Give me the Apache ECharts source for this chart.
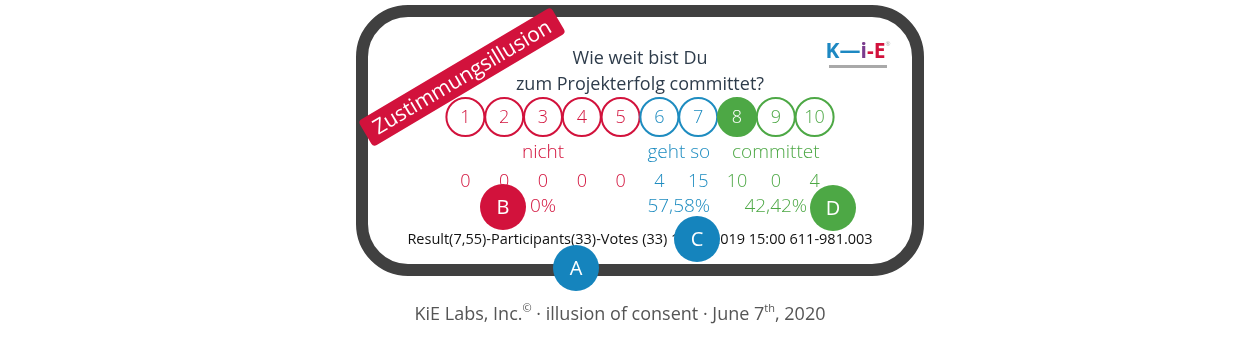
<!DOCTYPE html>
<html><head><meta charset="utf-8">
<script src="https://cdn.jsdelivr.net/npm/echarts@6/dist/echarts.min.js"></script>
<style>html,body{margin:0;padding:0;background:#fff}#c{width:1240px;height:340px}</style>
</head><body><div id="c"></div>
<script>
// ---- data ----
const scaleValues = [1,2,3,4,5,6,7,8,9,10];
const voteCounts  = [0,0,0,0,0,4,15,10,0,4];
const groupNames  = ['nicht','geht so','committet'];
const groupFrom   = [1,6,8];
const groupTo     = [5,7,10];
const groupColors = ['#D2123C','#1E8CC0','#4DA845'];
const rowNames    = ['scale','group','count','share'];
const question    = ['Wie weit bist Du','zum Projekterfolg committet?'];
const bannerText  = 'Zustimmungsillusion';
const caption     = 'KiE Labs, Inc.';
const captionRest = ' · illusion of consent · June 7';
const sessionInfo = '13.06.2019 15:00 611-981.003';

const FONT = '"Open Sans", "Noto Sans", sans-serif';
const total = voteCounts.reduce((a,b)=>a+b,0);
const mean = voteCounts.reduce((a,c,i)=>a+c*scaleValues[i],0)/total;
const selected = Math.round(mean);
const groupOf = v => groupFrom.findIndex((f,g)=>v>=f && v<=groupTo[g]);
const fmtDe = (x,d)=>x.toFixed(d).replace('.',',');
const groupShares = groupNames.map((n,g)=>{
  let s=0; scaleValues.forEach((v,i)=>{ if(groupOf(v)===g) s+=voteCounts[i]; });
  return s;
});
const pctText = s => s===0 ? '0%' : fmtDe(s/total*100,2)+'%';

const chart = echarts.init(document.getElementById('c'));

const ringData = scaleValues.map(v=>{
  const c = groupColors[groupOf(v)];
  const sel = v===selected;
  return {value:[v,'scale'], itemStyle:{color: sel?c:'#fff', borderColor:c, borderWidth:2, opacity:1},
          label:{color: sel?'#fff':c}};
});
const countData = scaleValues.map((v,i)=>({value:[v,'count',voteCounts[i]], label:{color:groupColors[groupOf(v)]}}));
const groupData = groupNames.map((n,g)=>({value:[(groupFrom[g]+groupTo[g])/2,'group',n], label:{color:groupColors[g]}}));
const shareData = groupNames.map((n,g)=>({value:[(groupFrom[g]+groupTo[g])/2,'share',pctText(groupShares[g])], label:{color:groupColors[g]}}));

function badge(x,y,letter,color){
  return {type:'group', x:x, y:y, z:100, children:[
    {type:'circle', shape:{cx:0,cy:0,r:23}, style:{fill:color}},
    {type:'text', style:{text:letter, x:0, y:1, fill:'#fff', font:'20px '+FONT, align:'center', verticalAlign:'middle'}}
  ]};
}
const lbl = (dy,fs)=>({show:true, position:'inside', fontSize:fs, fontFamily:FONT, fontWeight:300, offset:[0,dy]});

const option = {
  animation:false,
  grid:{left:446, width:388, top:102, height:120},
  xAxis:{type:'value', min:0.5, max:10.5, show:false},
  yAxis:{type:'category', data:rowNames, inverse:true, show:false},
  graphic:[
    {type:'rect', z:-10, shape:{x:362,y:11,width:556,height:259,r:46}, style:{fill:'#fff', stroke:'#404040', lineWidth:12}},
    {type:'text', style:{text:question[0], x:640, y:59, fill:'#2E3C4B', font:'18px '+FONT, align:'center', verticalAlign:'middle'}},
    {type:'text', style:{text:question[1], x:640, y:85, fill:'#2E3C4B', font:'18px '+FONT, align:'center', verticalAlign:'middle'}},
    {type:'text', style:{text:'Result('+fmtDe(mean,2)+')-Participants('+total+')-Votes ('+total+') '+sessionInfo,
       x:640, y:240, fill:'#111', font:'14.5px '+FONT, align:'center', verticalAlign:'middle'}},
    // logo
    {type:'text', style:{text:'{b|K—}{p|i}{r|-E}{t|®}', x:858, y:52, align:'center', verticalAlign:'middle',
       rich:{b:{fill:'#1D88C2', font:'bold 21px '+FONT}, p:{fill:'#7A3C8E', font:'bold 21px '+FONT},
             r:{fill:'#D2123C', font:'bold 21px '+FONT}, t:{fill:'#aaa', font:'6px '+FONT, verticalAlign:'top'}}}},
    {type:'rect', shape:{x:829,y:65,width:58,height:3}, style:{fill:'#A9A9A9'}},
    // banner
    {type:'group', x:462, y:77, rotation:30.7*Math.PI/180, z:50, children:[
      {type:'rect', shape:{x:-112,y:-15,width:224,height:30,r:4}, style:{fill:'#D2123C'}},
      {type:'text', style:{text:bannerText, x:0, y:1, fill:'#fff', font:'21px '+FONT, align:'center', verticalAlign:'middle'}}
    ]},
    badge(503,207,'B','#D2123C'),
    badge(576,268,'A','#1584BD'),
    badge(697,239,'C','#1584BD'),
    badge(833,208,'D','#4DA845'),
    {type:'text', style:{text:'{n|'+caption+'}{s|©}{n|'+captionRest+'}{s|th}{n|, 2020}', x:620, y:315, align:'center', verticalAlign:'middle',
       rich:{n:{fill:'#555', font:'18px '+FONT, lineHeight:24}, s:{fill:'#555', font:'11px '+FONT, verticalAlign:'top', lineHeight:24}}}}
  ],
  series:[
    {type:'scatter', symbol:'circle', symbolSize:38, data:ringData, z:5, itemStyle:{opacity:1},
     label:Object.assign(lbl(1,18),{formatter:p=>String(p.value[0])})},
    {type:'scatter', symbolSize:0, data:groupData, itemStyle:{opacity:1},
     label:Object.assign(lbl(6,19),{formatter:p=>p.value[2]})},
    {type:'scatter', symbolSize:0, data:countData, itemStyle:{opacity:1},
     label:Object.assign(lbl(5,18),{formatter:p=>String(p.value[2])})},
    {type:'scatter', symbolSize:0, data:shareData, itemStyle:{opacity:1},
     label:Object.assign(lbl(0,19),{formatter:p=>p.value[2]})}
  ]
};
chart.setOption(option);
</script></body></html>
